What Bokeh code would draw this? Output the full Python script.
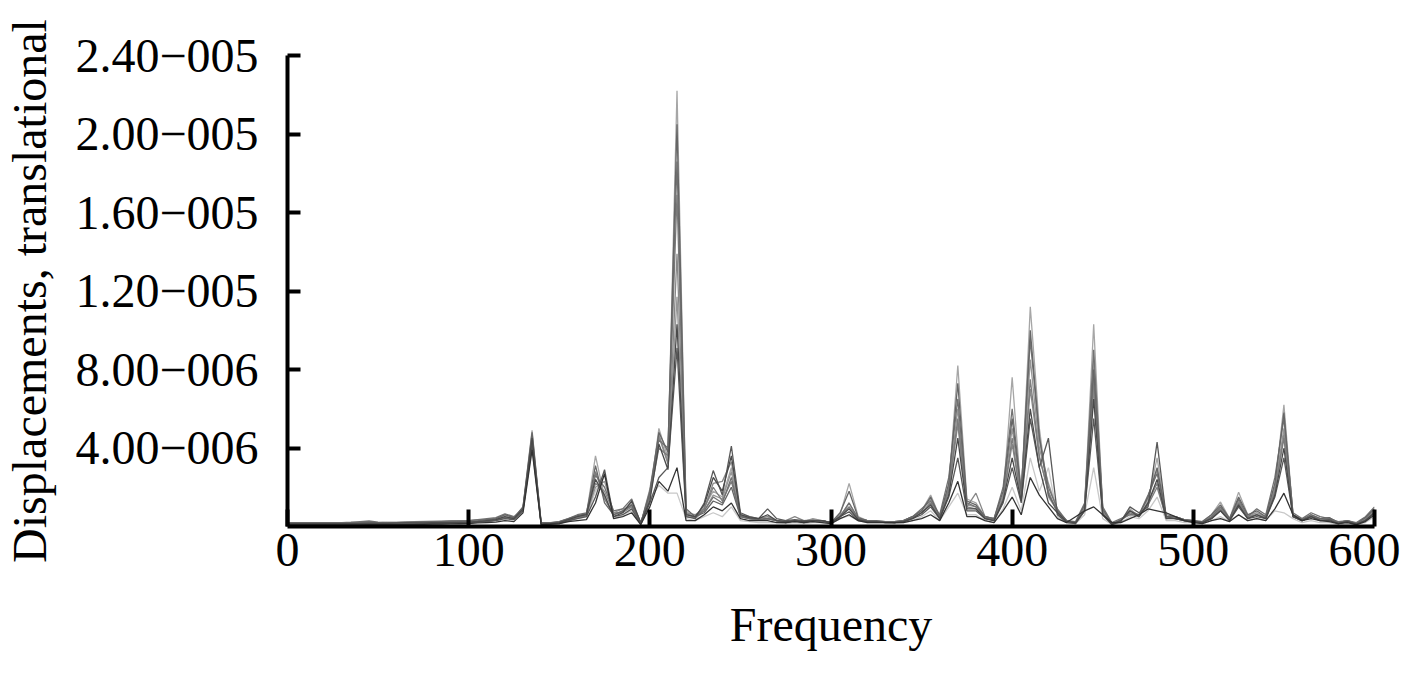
import numpy as np
from bokeh.plotting import figure
from bokeh.models import Range1d, FixedTicker, CustomJSTickFormatter
from bokeh.embed import file_html
from bokeh.resources import INLINE

# Frequency grid (Hz) and displacement series (units of 1e-6)
freq = list(range(0, 605, 5))

s1 = [.15, .15, .15, .15, .15, .16, .16, .16, .18, .2, .18, .15, .15, .16, .17, .18, .18, .2, .2, .22,
      .25, .3, .3, .4, .55, .4, 1.0, 4.9, .15, .15, .2, .35, .5, .6, 3.6, 1.5, .6, .8, 1.2, .2,
      1.5, 5.0, 3.5, 22.2, .8, .4, 1.0, 1.8, 1.5, 3.0, .6, .5, .4, .5, .3, .25, .3, .25, .3, .3,
      .2, .6, 2.2, .5, .3, .3, .25, .25, .3, .5, .8, 1.6, .5, 2.0, 8.2, 1.4, 1.2, .5, .3, 1.5,
      7.6, 1.5, 11.2, 5.0, 1.5, .8, .3, .2, 1.0, 10.3, .8, .15, .3, .9, .5, 1.3, 3.5, .5, .5, .3,
      .3, .25, .6, 1.25, .4, 1.75, .6, .7, .5, 2.0, 6.2, .6, .3, .6, .4, .45, .2, .3, .15, .4, .9]
s2 = [.2, .2, .2, .2, .2, .2, .2, .22, .25, .28, .22, .2, .2, .22, .22, .24, .25, .25, .28, .28,
      .3, .35, .4, .45, .65, .5, .9, 4.6, .2, .2, .25, .4, .6, .7, 2.6, 2.0, .8, .9, 1.4, .15,
      1.8, 4.4, 4.0, 18.6, .6, .5, .8, 1.5, 1.2, 2.5, .5, .4, .35, .4, .3, .2, .3, .2, .3, .25,
      .2, .5, 1.2, .4, .3, .25, .25, .25, .3, .5, .9, 1.3, .6, 2.5, 6.5, 1.2, 1.0, .5, .4, 2.0,
      6.0, 1.8, 9.5, 4.5, 2.0, .9, .3, .25, 1.2, 9.0, 1.0, .2, .4, .6, .6, 1.6, 2.7, .6, .5, .35,
      .3, .2, .5, 1.0, .4, 1.4, .5, .9, .6, 2.5, 5.5, .7, .4, .7, .5, .4, .25, .3, .2, .5, 1.0]
s3 = [.1, .1, .1, .12, .12, .12, .12, .12, .12, .12, .12, .12, .12, .13, .14, .14, .15, .16, .18, .18,
      .2, .25, .25, .3, .4, .35, .8, 4.2, .1, .12, .15, .3, .4, .5, 1.5, 2.9, .5, .6, .9, .1,
      1.2, 2.5, 3.0, 9.1, .5, .4, 1.2, 2.85, 1.6, 4.1, .7, .5, .4, .9, .4, .3, .35, .3, .3, .3,
      .2, .5, .75, .3, .25, .25, .2, .2, .25, .4, .6, 1.0, .4, 1.5, 3.5, .8, .8, .4, .3, 1.2,
      3.0, 1.2, 5.5, 3.0, 4.5, .6, .2, .15, .8, 5.5, .6, .1, .25, 1.0, .7, 1.0, 4.3, .5, .4, .3,
      .25, .2, .4, .8, .3, 1.0, .4, .5, .4, 1.5, 3.5, .5, .3, .5, .3, .35, .15, .25, .1, .3, .7]
s4 = [.12, .12, .12, .12, .12, .12, .13, .13, .13, .14, .14, .14, .15, .15, .15, .16, .16, .17, .18, .19,
      .2, .25, .3, .35, .45, .4, .9, 4.4, .15, .15, .2, .3, .45, .55, 2.2, 1.8, .7, .7, 1.0, .2,
      1.6, 4.6, 3.2, 13.9, .7, .6, .9, 2.2, 2.3, 3.3, .6, .45, .4, .5, .3, .3, .5, .3, .35, .3,
      .2, .6, 1.0, .4, .3, .25, .25, .2, .25, .45, .7, 1.2, .45, 1.8, 5.2, 1.0, 1.7, .5, .35, 1.4,
      4.2, 1.4, 7.0, 3.5, 1.8, .7, .3, .2, .9, 7.0, .8, .15, .3, .7, .5, 1.2, 2.2, .4, .45, .3,
      .25, .2, .5, .9, .35, 1.2, .5, .6, .45, 1.8, 4.7, .55, .3, .55, .35, .4, .2, .25, .15, .35, .8]
s5 = [.18, .18, .18, .18, .18, .18, .18, .2, .2, .22, .2, .18, .2, .2, .22, .24, .24, .25, .26, .27,
      .28, .3, .35, .4, .6, .45, 1.0, 4.8, .2, .18, .25, .4, .55, .65, 3.1, 1.2, .6, .8, 1.1, .15,
      1.7, 4.8, 3.8, 20.5, .9, .5, .7, 1.3, 1.1, 2.0, .5, .4, .35, .4, .3, .2, .3, .2, .3, .3,
      .2, .7, 1.8, .45, .3, .3, .25, .25, .3, .5, .8, 1.5, .5, 2.2, 7.3, 1.3, 1.1, .5, .4, 1.8,
      5.5, 1.7, 10.0, 4.6, 1.6, .8, .3, .2, 1.1, 8.0, .9, .15, .3, .8, .6, 1.5, 3.0, .5, .5, .35,
      .3, .25, .6, 1.1, .4, 1.5, .6, .8, .5, 2.2, 5.8, .6, .35, .6, .4, .45, .2, .3, .15, .45, .9]
s6 = [.1, .1, .1, .1, .1, .12, .12, .12, .12, .12, .12, .12, .12, .13, .13, .14, .15, .15, .16, .17,
      .2, .22, .25, .3, .4, .35, .85, 4.0, .1, .12, .15, .25, .4, .5, 1.8, 2.6, .4, .6, .8, .1,
      1.4, 2.1, 1.7, 1.7, .4, .3, .5, .7, .5, 1.0, .3, .25, .2, .2, .2, .15, .2, .15, .2, .2,
      .15, .4, .55, .3, .2, .2, .2, .15, .2, .3, .5, .8, .3, 1.0, 1.7, .6, .6, .3, .2, .9,
      2.0, .8, 3.5, 1.8, 3.0, .5, .2, .15, .6, 3.0, .4, .1, .2, .5, .4, .8, 1.5, .3, .3, .2,
      .2, .15, .3, .5, .25, .6, .3, .4, .3, .8, .7, .4, .2, .3, .2, .2, .1, .15, .1, .2, .5]
s7 = [.14, .14, .14, .14, .14, .15, .15, .15, .15, .16, .16, .16, .17, .18, .18, .18, .19, .2, .2, .21,
      .22, .25, .3, .35, .5, .4, .9, 4.5, .12, .15, .2, .35, .5, .6, 2.4, 1.6, .5, .7, 1.3, .2,
      1.3, 4.2, 2.9, 10.3, .6, .5, 1.1, 2.5, 1.8, 3.6, .6, .45, .4, .6, .3, .25, .3, .25, .3, .3,
      .2, .5, .9, .35, .25, .25, .2, .2, .25, .4, .7, 1.1, .4, 1.6, 4.5, .9, .9, .4, .3, 1.3,
      3.5, 1.3, 6.0, 3.0, 1.2, .7, .25, .2, .8, 6.5, .6, .12, .3, .8, .5, 1.2, 2.4, .4, .4, .3,
      .25, .2, .4, .8, .3, 1.1, .4, .6, .4, 1.6, 4.0, .5, .3, .5, .3, .3, .15, .25, .12, .3, .7]
s8 = [.2, .2, .2, .2, .2, .2, .2, .2, .2, .2, .2, .22, .22, .24, .25, .26, .27, .28, .28, .29,
      .3, .35, .35, .4, .6, .45, .95, 4.7, .15, .15, .2, .35, .5, .6, 2.0, 2.3, .7, .9, 1.0, .15,
      1.9, 4.7, 3.3, 11.7, .7, .4, .8, 1.6, 1.4, 2.8, .5, .4, .35, .4, .3, .2, .3, .25, .4, .3,
      .2, .5, 1.2, .4, .3, .25, .25, .2, .3, .5, .8, 1.4, .5, 2.0, 6.0, 1.1, 1.0, .5, .4, 1.6,
      5.0, 1.6, 8.5, 4.0, 2.2, .8, .3, .2, 1.0, 8.5, .8, .15, .35, .6, .6, 1.4, 2.9, .5, .5, .35,
      .3, .2, .5, 1.0, .4, 1.3, .5, .7, .5, 2.0, 5.0, .6, .35, .6, .4, .4, .2, .3, .15, .4, .85]
s9 = [.08, .08, .08, .08, .08, .08, .08, .08, .08, .09, .09, .09, .1, .1, .1, .11, .12, .12, .13, .14,
      .15, .18, .2, .22, .3, .25, .7, 3.9, .1, .12, .15, .25, .3, .35, 1.2, 2.7, .4, .5, .7, .1,
      1.0, 2.3, 1.8, 3.0, .3, .3, .6, 1.0, .8, 1.2, .4, .3, .3, .3, .2, .2, .25, .2, .25, .2,
      .15, .4, .6, .3, .2, .2, .2, .2, .2, .3, .4, .6, .3, 1.2, 2.3, .5, .5, .3, .2, .8,
      1.5, .6, 2.5, 1.6, 1.0, .4, .2, .5, .8, 1.0, .6, .2, .2, .4, .6, .9, .8, .7, .5, .3,
      .2, .15, .3, .4, .25, .6, .3, .4, .3, .9, 1.7, .6, .3, .4, .3, .25, .15, .2, .1, .25, .6]
s10 = [.14, .14, .14, .14, .14, .15, .15, .15, .16, .16, .16, .16, .17, .17, .18, .18, .19, .2, .2, .22,
       .22, .25, .28, .32, .45, .38, .85, 4.3, .14, .15, .2, .3, .45, .55, 2.8, 1.4, .6, .75, 1.1, .15,
       1.5, 4.0, 3.6, 16.9, .5, .45, .9, 2.0, 1.3, 2.3, .55, .4, .35, .4, .3, .25, .3, .25, .3, .3,
       .2, .5, 1.0, .35, .3, .25, .25, .2, .25, .45, .7, 1.2, .45, 1.9, 5.5, 1.0, .9, .45, .35, 1.4,
       4.5, 1.3, 7.5, 3.6, 1.7, .7, .25, .2, .9, 7.5, .7, .15, .3, .7, .5, 1.1, 2.0, .45, .4, .3,
       .25, .2, .45, .9, .35, 1.2, .45, .6, .45, 1.8, 4.5, .5, .3, .5, .35, .35, .2, .25, .15, .35, .75]

series = [s6, s1, s8, s4, s10, s2, s5, s3, s7, s9]
colors = ["#c8c8c8", "#a6a6a6", "#969696", "#888888", "#7c7c7c",
          "#727272", "#666666", "#585858", "#4a4a4a", "#333333"]

x_ticks = [0, 100, 200, 300, 400, 500, 600]
y_ticks = [4e-6, 8e-6, 1.2e-5, 1.6e-5, 2.0e-5, 2.4e-5]

FONT = "Liberation Serif"

p = figure(width=1400, height=672, output_backend="svg", toolbar_location=None,
           x_range=Range1d(0, 600), y_range=Range1d(0, 2.4e-5),
           min_border_left=287, min_border_right=26, min_border_top=55, min_border_bottom=146)
p.outline_line_color = None
p.xgrid.visible = False
p.ygrid.visible = False
p.background_fill_color = "white"
p.border_fill_color = "white"

for s, c in zip(series, colors):
    assert len(s) == len(freq)
    p.line(freq, np.array(s) * 1e-6, line_color=c, line_width=1.3)

p.xaxis.ticker = FixedTicker(ticks=x_ticks)
p.yaxis.ticker = FixedTicker(ticks=y_ticks)
p.yaxis.formatter = CustomJSTickFormatter(code="""
    const e = Math.floor(Math.log10(tick) + 1e-9);
    const m = tick / Math.pow(10, e);
    return m.toFixed(2) + "\u2212" + String(-e).padStart(3, "0");
""")

for ax in (p.xaxis, p.yaxis):
    ax.axis_line_width = 4
    ax.axis_line_color = "black"
    ax.major_tick_line_color = "black"
    ax.major_tick_line_width = 4
    ax.major_tick_out = 0
    ax.minor_tick_line_color = None
    ax.major_label_text_font = FONT
    ax.major_label_text_font_size = "48px"
    ax.major_label_text_color = "black"
    ax.axis_label_text_font = FONT
    ax.axis_label_text_font_size = "48px"
    ax.axis_label_text_font_style = "normal"
    ax.axis_label_text_color = "black"

p.xaxis.major_tick_in = 17
p.yaxis.major_tick_in = 13
p.xaxis.major_label_standoff = 7
p.xaxis.axis_label_standoff = 29
p.yaxis.major_label_standoff = 29
p.yaxis.axis_label_standoff = 16
p.xaxis.axis_label = "Frequency"
p.yaxis.axis_label = "Displacements, translational"

open("out.html", "w").write(file_html(p, INLINE))
